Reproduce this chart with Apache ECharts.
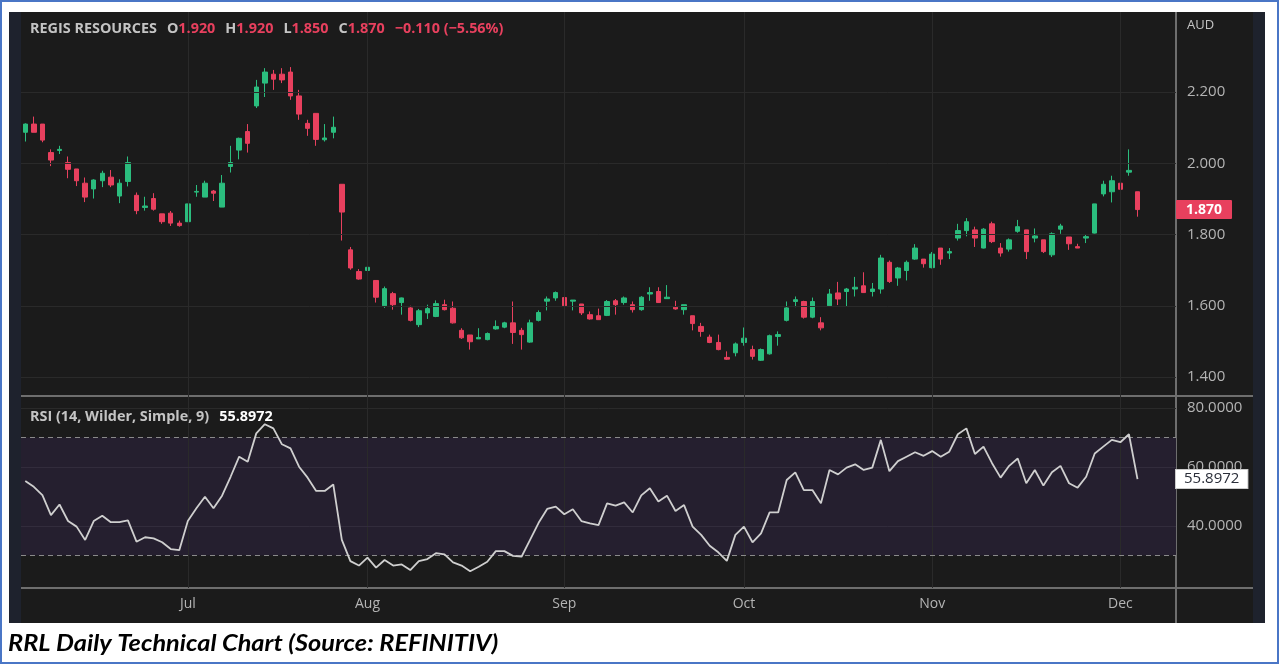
<!DOCTYPE html>
<html><head><meta charset="utf-8">
<script src="https://cdn.jsdelivr.net/npm/echarts@6/dist/echarts.min.js"></script>
<style>
html,body{margin:0;padding:0;background:#fff;}
#wrap{position:relative;width:1279px;height:664px;overflow:hidden;}
#chart{position:absolute;left:0;top:0;width:1279px;height:664px;}
#frame{position:absolute;left:0;top:0;width:1279px;height:664px;box-sizing:border-box;border:2px solid #4a76c6;pointer-events:none;}
</style></head>
<body><div id="wrap"><div id="chart"></div><div id="frame"></div></div>
<script>
// ---- data ----
const opens  = [2.087,2.110,2.110,2.030,2.036,2.002,1.984,1.944,1.928,1.951,1.961,1.908,1.949,1.910,1.876,1.901,1.858,1.860,1.832,1.836,
1.919,1.905,1.922,1.877,1.991,2.037,2.089,2.161,2.225,2.250,2.250,2.256,2.189,2.112,2.140,2.066,2.087,1.941,1.757,1.696,
1.699,1.671,1.600,1.634,1.609,1.594,1.547,1.580,1.570,1.603,1.593,1.531,1.518,1.507,1.505,1.535,1.540,1.552,1.531,1.498,
1.559,1.613,1.622,1.623,1.613,1.605,1.575,1.572,1.573,1.614,1.609,1.603,1.589,1.633,1.640,1.620,1.596,1.589,1.572,1.542,
1.512,1.497,1.455,1.468,1.497,1.477,1.447,1.465,1.514,1.559,1.612,1.612,1.568,1.552,1.600,1.636,1.640,1.647,1.656,1.640,
1.647,1.722,1.678,1.699,1.731,1.731,1.707,1.762,1.748,1.790,1.811,1.813,1.762,1.830,1.762,1.759,1.809,1.813,1.790,1.785,
1.743,1.815,1.793,1.766,1.790,1.804,1.914,1.920,1.944,1.975,1.920];
const highs  = [2.112,2.131,2.110,2.039,2.049,2.019,1.984,1.960,1.955,1.979,1.981,1.955,2.019,1.918,1.906,1.916,1.858,1.866,1.839,1.886,
1.939,1.951,1.925,1.967,2.049,2.072,2.110,2.234,2.267,2.262,2.267,2.270,2.206,2.122,2.140,2.110,2.131,1.941,1.765,1.703,
1.740,1.671,1.654,1.639,1.623,1.600,1.591,1.603,1.615,1.617,1.612,1.537,1.518,1.537,1.525,1.559,1.555,1.612,1.538,1.561,
1.587,1.626,1.640,1.626,1.616,1.605,1.584,1.592,1.616,1.619,1.626,1.612,1.627,1.652,1.652,1.658,1.614,1.603,1.572,1.552,
1.519,1.519,1.472,1.497,1.539,1.488,1.480,1.519,1.528,1.612,1.626,1.614,1.623,1.568,1.647,1.667,1.650,1.681,1.694,1.664,
1.743,1.727,1.709,1.727,1.773,1.731,1.751,1.762,1.762,1.830,1.846,1.822,1.818,1.836,1.776,1.789,1.841,1.813,1.817,1.785,
1.806,1.830,1.793,1.774,1.801,1.886,1.951,1.965,1.961,2.039,1.920];
const lows   = [2.061,2.087,2.059,1.992,2.026,1.958,1.936,1.891,1.901,1.933,1.933,1.888,1.935,1.857,1.867,1.867,1.830,1.824,1.822,1.835,
1.906,1.905,1.894,1.877,1.974,2.011,2.030,2.155,2.186,2.206,2.225,2.178,2.122,2.077,2.049,2.061,2.070,1.783,1.701,1.673,
1.692,1.609,1.594,1.589,1.575,1.556,1.540,1.563,1.568,1.587,1.550,1.507,1.477,1.507,1.503,1.533,1.537,1.493,1.477,1.496,
1.556,1.587,1.614,1.587,1.587,1.574,1.561,1.561,1.571,1.575,1.603,1.581,1.586,1.614,1.608,1.620,1.589,1.575,1.531,1.513,
1.495,1.475,1.448,1.458,1.488,1.449,1.445,1.463,1.488,1.556,1.596,1.564,1.565,1.531,1.597,1.602,1.597,1.626,1.636,1.626,
1.634,1.664,1.656,1.671,1.729,1.707,1.705,1.715,1.731,1.783,1.795,1.765,1.761,1.776,1.738,1.752,1.805,1.731,1.778,1.748,
1.737,1.802,1.757,1.762,1.776,1.803,1.907,1.890,1.927,1.965,1.850];
const closes = [2.110,2.087,2.065,2.009,2.039,1.983,1.951,1.905,1.953,1.972,1.939,1.944,2.002,1.867,1.880,1.871,1.836,1.832,1.825,1.886,
1.921,1.944,1.916,1.944,2.002,2.070,2.056,2.214,2.256,2.236,2.234,2.189,2.138,2.098,2.067,2.071,2.101,1.863,1.706,1.675,
1.708,1.624,1.648,1.603,1.622,1.559,1.586,1.592,1.606,1.589,1.552,1.510,1.499,1.511,1.522,1.542,1.552,1.525,1.519,1.552,
1.581,1.619,1.637,1.600,1.616,1.580,1.563,1.561,1.612,1.603,1.622,1.589,1.624,1.637,1.609,1.624,1.591,1.603,1.550,1.528,
1.497,1.477,1.450,1.493,1.509,1.458,1.477,1.516,1.519,1.594,1.617,1.568,1.612,1.538,1.633,1.619,1.647,1.652,1.637,1.647,
1.734,1.668,1.706,1.722,1.762,1.718,1.745,1.731,1.752,1.811,1.836,1.790,1.815,1.780,1.748,1.785,1.822,1.752,1.796,1.752,
1.802,1.824,1.774,1.762,1.794,1.886,1.941,1.951,1.927,1.980,1.870];
const rsiValues = [55.3,53.3,50.5,43.7,47.3,41.7,39.8,35.3,41.7,43.5,41.3,41.3,41.9,34.7,36.2,35.8,34.5,32.2,31.8,41.7,
46.0,49.9,46.0,50.3,56.7,63.5,61.8,71.4,74.5,73.1,67.7,66.3,60.1,56.4,51.9,51.9,54.1,35.3,28.1,26.6,
29.3,25.9,28.5,26.6,27.0,25.1,28.1,28.8,30.8,30.4,27.7,26.6,24.7,26.2,27.9,31.5,31.5,29.9,29.6,35.3,
41.1,45.8,46.6,44.0,45.7,41.7,40.9,40.3,47.7,46.9,48.0,44.6,50.4,52.8,48.3,50.3,45.1,47.1,39.8,37.0,
33.3,31.1,28.2,37.0,39.8,34.5,37.5,44.6,44.6,55.6,58.2,52.2,52.2,47.7,59.0,57.5,59.8,60.9,59.0,59.8,
69.2,58.6,62.0,63.5,65.0,63.8,65.4,63.5,65.2,71.1,73.1,64.4,66.9,61.3,56.4,60.4,62.9,54.5,59.0,53.7,
58.2,60.4,54.5,53.0,56.7,64.6,66.9,69.2,68.4,71.1,55.8972];
const monthLabels = ['Jul','Aug','Sep','Oct','Nov','Dec'];
const monthStartIndex = [19,40,63,84,106,128];
const priceTicks = [1.4,1.6,1.8,2.0,2.2];
const rsiTicks = [40,60,80];
const rsiBand = [30,70];
const slotCount = 135; // trading-day slots on the time axis (incl. right margin)
const categories = Array.from({length: slotCount}, (_, i) => 'd' + i);

// ---- styles ----
const UP = '#2bbd7e', DOWN = '#e8405e';
const GRID_C = '#2a2a2a';
const LABEL_C = '#b4b4b4';
const FONT = '"Open Sans", "Noto Sans", sans-serif';
const CLEAR = 'rgba(0,0,0,0)';

const candleData = opens.map((o, i) => [o, closes[i], lows[i], highs[i]]);
const lastClose = closes[closes.length - 1];
const lastRsi = rsiValues[rsiValues.length - 1];
const prevClose = closes[closes.length - 2];
const chg = lastClose - prevClose;
const chgPct = chg / prevClose * 100;
const fmt3 = v => v.toFixed(3);

const vLine = i => ({xAxis: i, lineStyle: {color: GRID_C, width: 1, type: 'solid'}, label: {show: false}});
const hLine = v => ({yAxis: v, lineStyle: {color: GRID_C, width: 1, type: 'solid'}, label: {show: false}});

const chart = echarts.init(document.getElementById('chart'), null, {renderer: 'canvas'});
chart.setOption({
  animation: false,
  backgroundColor: '#ffffff',
  title: [
    {left: 30, top: 20, padding: 0,
     text: '{n|REGIS RESOURCES}  {n|O}{v|' + fmt3(opens[130]) + '}  {n|H}{v|' + fmt3(highs[130]) + '}  {n|L}{v|' + fmt3(lows[130]) +
           '}  {n|C}{v|' + fmt3(lastClose) + '}  {v|' + '\u2212' + Math.abs(chg).toFixed(3) + ' (\u2212' + Math.abs(chgPct).toFixed(2) + '%)}',
     textStyle: {rich: {
       n: {color: '#c4c4c4', fontSize: 14.4, fontFamily: FONT},
       v: {color: DOWN, fontSize: 14.4, fontFamily: FONT}
     }}},
    {left: 30, top: 408, padding: 0,
     text: '{n|RSI (14, Wilder, Simple, 9)}  {w|' + lastRsi.toFixed(4) + '}',
     textStyle: {rich: {
       n: {color: '#c4c4c4', fontSize: 14.4, fontFamily: FONT},
       w: {color: '#ffffff', fontSize: 14.4, fontWeight: 'bold', fontFamily: FONT}
     }}}
  ],
  grid: [
    {left: 21, top: 12, width: 1155, height: 384},
    {left: 21, top: 396, width: 1155, height: 192}
  ],
  xAxis: [
    {type: 'category', gridIndex: 0, data: categories, boundaryGap: true,
     axisLine: {show: false}, axisTick: {show: false}, axisLabel: {show: false}, splitLine: {show: false}},
    {type: 'category', gridIndex: 1, data: categories, boundaryGap: true,
     axisLine: {show: false}, axisTick: {show: false}, splitLine: {show: false},
     axisLabel: {show: true, interval: 0, margin: 9, color: LABEL_C, fontSize: 14, fontFamily: FONT,
       formatter: (v, i) => { const k = monthStartIndex.indexOf(i); return k >= 0 ? monthLabels[k] : ''; }}}
  ],
  yAxis: [
    {type: 'value', gridIndex: 0, position: 'right', min: 1.3467, max: 2.4246, splitNumber: 5,
     axisLine: {show: false}, axisTick: {show: false}, splitLine: {show: false},
     axisLabel: {margin: 11, color: LABEL_C, fontSize: 15, fontFamily: FONT, showMinLabel: false, showMaxLabel: false,
       formatter: v => priceTicks.some(t => Math.abs(t - v) < 1e-6) ? v.toFixed(3) : ''}},
    {type: 'value', gridIndex: 1, position: 'right', min: 19.0, max: 84.07, splitNumber: 3,
     axisLine: {show: false}, axisTick: {show: false}, splitLine: {show: false},
     axisLabel: {margin: 11, color: LABEL_C, fontSize: 15, fontFamily: FONT, showMinLabel: false, showMaxLabel: false,
       formatter: v => rsiTicks.some(t => Math.abs(t - v) < 1e-6) ? v.toFixed(4) : ''}}
  ],
  series: [
    {type: 'candlestick', xAxisIndex: 0, yAxisIndex: 0, data: candleData, barWidth: 5,
     itemStyle: {color: UP, color0: DOWN, borderColor: UP, borderColor0: DOWN, borderWidth: 1},
     markLine: {silent: true, symbol: ['none', 'none'], animation: false,
       data: [
         ...monthStartIndex.map(vLine),
         ...priceTicks.map(hLine),
         {yAxis: lastClose, lineStyle: {color: CLEAR, width: 1, type: 'solid'},
          label: {show: true, position: 'end', distance: 0, formatter: fmt3(lastClose),
                  backgroundColor: DOWN, color: '#ffffff', fontSize: 14, fontWeight: 'bold', fontFamily: FONT,
                  padding: [3, 10, 2, 10], borderRadius: 1}}
       ]}},
    {type: 'line', xAxisIndex: 1, yAxisIndex: 1, data: rsiValues, showSymbol: false, z: 5,
     lineStyle: {color: '#cfcfcf', width: 1.8}, itemStyle: {color: '#cfcfcf'},
     markArea: {silent: true, itemStyle: {color: '#251f2f'}, data: [[{yAxis: rsiBand[0]}, {yAxis: rsiBand[1]}]]},
     markLine: {silent: true, symbol: ['none', 'none'], animation: false,
       data: [
         ...monthStartIndex.map(vLine),
         ...rsiTicks.map(v => ({yAxis: v, lineStyle: {color: v === 80 ? GRID_C : '#322c3c', width: 1, type: 'solid'}, label: {show: false}})),
         ...rsiBand.map(v => ({yAxis: v, lineStyle: {color: '#8a8a8a', width: 1, type: [5, 4]}, label: {show: false}})),
         {yAxis: lastRsi, lineStyle: {color: CLEAR, width: 1, type: 'solid'},
          label: {show: true, position: 'end', distance: 0, formatter: lastRsi.toFixed(4),
                  backgroundColor: '#ffffff', color: '#2a2e39', fontSize: 15, fontFamily: FONT,
                  padding: [2, 8, 1, 8], borderColor: '#cccccc', borderWidth: 1}}
       ]}}
  ],
  graphic: [
    {type: 'rect', z: -10, silent: true, shape: {x: 9, y: 12, width: 1256, height: 611}, style: {fill: '#1b1b1b'}},
    {type: 'rect', z: -9, silent: true, shape: {x: 9, y: 12, width: 12, height: 611}, style: {fill: '#1e222d'}},
    {type: 'rect', z: -9, silent: true, shape: {x: 1253, y: 12, width: 12, height: 611}, style: {fill: '#1e222d'}},
    {type: 'line', z: 1, silent: true, shape: {x1: 21, y1: 396, x2: 1253, y2: 396}, style: {stroke: '#6e6e6e', lineWidth: 2}},
    {type: 'line', z: 1, silent: true, shape: {x1: 21, y1: 588, x2: 1253, y2: 588}, style: {stroke: '#6e6e6e', lineWidth: 2}},
    {type: 'line', z: 1, silent: true, shape: {x1: 1176, y1: 12, x2: 1176, y2: 623}, style: {stroke: '#6e6e6e', lineWidth: 2}},
    {type: 'text', z: 3, left: 1187, top: 19, style: {text: 'AUD', fill: '#c4c4c4', font: '13px ' + FONT}},
    {type: 'text', z: 3, x: 8, y: 633, scaleX: 1.15, style: {text: 'RRL Daily Technical Chart (Source: REFINITIV)', fill: '#000000', font: 'italic bold 22px Lato, sans-serif'}}
  ]
});
</script>
</body></html>
